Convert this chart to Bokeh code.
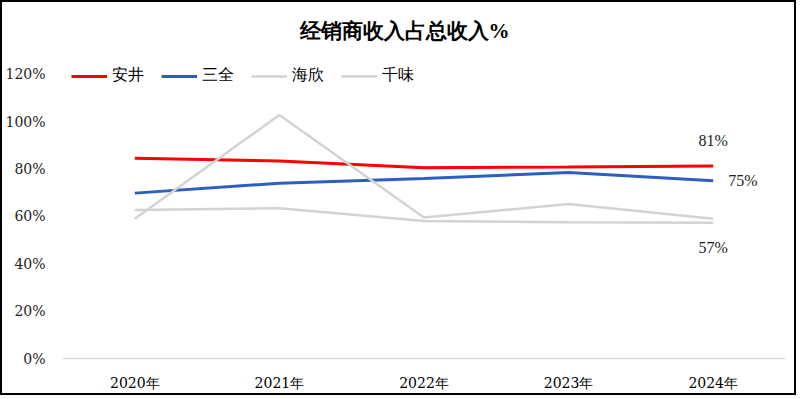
from bokeh.plotting import figure
from bokeh.models import Legend, LegendItem, FactorRange, Range1d, FixedTicker, NumeralTickFormatter
from bokeh.core.properties import value
from bokeh.embed import file_html
from bokeh.resources import INLINE

# ---- data ----
years = ["2020年", "2021年", "2022年", "2023年", "2024年"]
anjing = [0.845, 0.834, 0.805, 0.808, 0.813]    # 安井
sanquan = [0.698, 0.740, 0.760, 0.785, 0.750]   # 三全
haixin = [0.590, 1.028, 0.595, 0.652, 0.590]    # 海欣
qianwei = [0.627, 0.634, 0.580, 0.575, 0.573]   # 千味
y_ticks = [0, 0.2, 0.4, 0.6, 0.8, 1.0, 1.2]
title_text = "经销商收入占总收入%"

SERIF = "Liberation Serif"
AXIS_FONT = "DejaVu Serif"

p = figure(
    x_range=FactorRange(*years),
    y_range=Range1d(0, 1.3),
    width=796, height=395,
    output_backend="svg", toolbar_location=None,
    min_border_left=58, min_border_right=13,
    min_border_top=48, min_border_bottom=39,
)
p.styles = {"border": "2px solid #000000"}
p.background_fill_color = "white"
p.border_fill_color = "white"
p.outline_line_color = None
p.xgrid.grid_line_color = None
p.ygrid.grid_line_color = None

p.title.text = title_text
p.title.align = "left"
p.title.offset = 237
p.title.text_font = SERIF
p.title.text_font_size = "21px"
p.title.text_font_style = "bold"
p.title.text_color = "#000000"
p.title.standoff = 15

# y axis
p.yaxis.ticker = FixedTicker(ticks=y_ticks)
p.yaxis.formatter = NumeralTickFormatter(format="0%")
p.yaxis.axis_line_color = None
p.yaxis.major_tick_line_color = None
p.yaxis.minor_tick_line_color = None
p.yaxis.major_tick_out = 0
p.yaxis.major_tick_in = 0
p.yaxis.minor_tick_out = 0
p.yaxis.major_label_text_font = AXIS_FONT
p.yaxis.major_label_text_font_size = "14px"
p.yaxis.major_label_text_color = "#222222"
p.yaxis.major_label_standoff = 17

# x axis
p.xaxis.axis_line_color = "#d9d9d9"
p.xaxis.axis_line_width = 1.5
p.xaxis.major_tick_line_color = None
p.xaxis.minor_tick_line_color = None
p.xaxis.major_tick_out = 0
p.xaxis.major_tick_in = 0
p.xaxis.minor_tick_out = 0
p.xaxis.major_label_text_font = AXIS_FONT
p.xaxis.major_label_text_font_size = "14px"
p.xaxis.major_label_text_color = "#000000"
p.xaxis.major_label_standoff = 16

r1 = p.line(years, anjing, line_color="#FF0000", line_width=3)
r2 = p.line(years, sanquan, line_color="#2E5EBF", line_width=3)
r3 = p.line(years, haixin, line_color="#D3D3D3", line_width=2.5)
r4 = p.line(years, qianwei, line_color="#D3D3D3", line_width=2.5)

lbl_font = value(SERIF)
p.text(x=[years[-1]], y=[anjing[-1]], text=[f"{round(anjing[-1]*100)}%"],
       text_align="center", text_baseline="middle", y_offset=-25,
       text_font=lbl_font, text_font_size="16px", text_color="#222222")
p.text(x=[years[-1]], y=[sanquan[-1]], text=[f"{round(sanquan[-1]*100)}%"],
       text_align="left", text_baseline="middle", x_offset=15,
       text_font=lbl_font, text_font_size="16px", text_color="#222222")
p.text(x=[years[-1]], y=[qianwei[-1]], text=[f"{round(qianwei[-1]*100)}%"],
       text_align="center", text_baseline="middle", y_offset=25,
       text_font=lbl_font, text_font_size="16px", text_color="#222222")

legend = Legend(
    items=[
        LegendItem(label="安井", renderers=[r1]),
        LegendItem(label="三全", renderers=[r2]),
        LegendItem(label="海欣", renderers=[r3]),
        LegendItem(label="千味", renderers=[r4]),
    ],
    orientation="horizontal",
    location=(9, 272),
    padding=0, margin=0, spacing=17,
    glyph_width=36, glyph_height=16, label_standoff=5,
    label_text_font=SERIF, label_text_font_size="16px", label_text_color="#000000",
    border_line_color=None, background_fill_alpha=0,
)
p.add_layout(legend, "center")

open("out.html", "w").write(file_html(p, INLINE))
